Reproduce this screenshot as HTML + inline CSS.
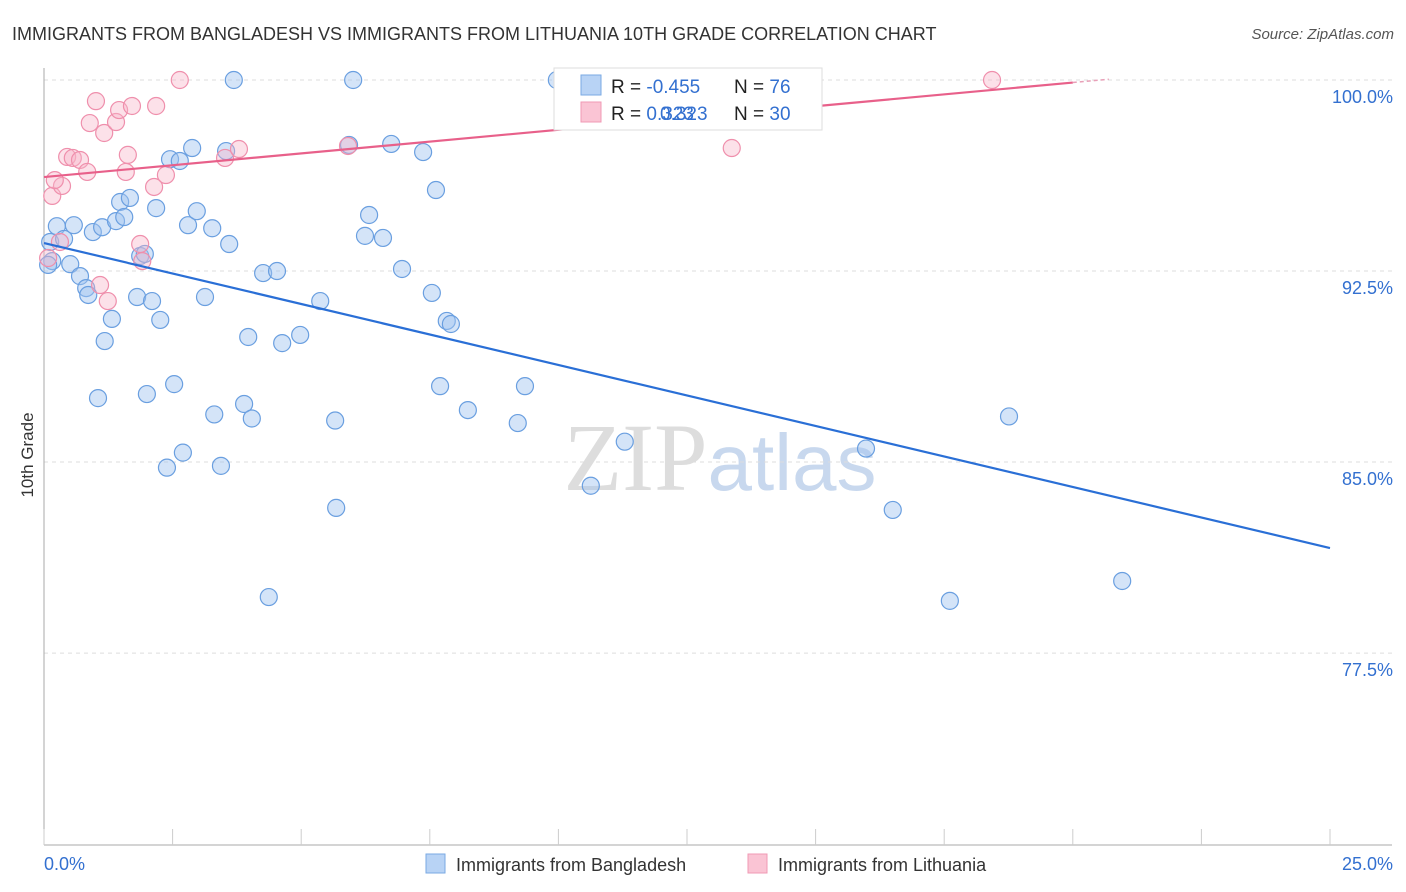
<!DOCTYPE html>
<html><head><meta charset="utf-8"><style>
body{margin:0;background:#fff;font-family:"Liberation Sans",sans-serif;}
svg{display:block}
</style></head><body>
<svg id="chart" width="1406" height="892" xmlns="http://www.w3.org/2000/svg">
<text x="12" y="40" font-size="18" fill="#333">IMMIGRANTS FROM BANGLADESH VS IMMIGRANTS FROM LITHUANIA 10TH GRADE CORRELATION CHART</text>
<text x="1394" y="39" font-size="15" fill="#555" text-anchor="end" font-style="italic">Source: ZipAtlas.com</text>
<text x="33" y="455" font-size="17" fill="#333" text-anchor="middle" transform="rotate(-90 33 455)">10th Grade</text>
<text x="720" y="490" font-size="96" fill="#ddd" text-anchor="middle" font-family="Liberation Serif">ZIP<tspan fill="#c8d8ee" font-family="Liberation Sans" font-size="80">atlas</tspan></text>
<g id="grid"></g><g id="pts"></g><g id="lines"></g>
<g>
<rect x="554" y="68" width="268" height="62" fill="#fff" stroke="#ddd"/>
<rect x="581" y="75" width="20" height="20" fill="#b8d3f5" stroke="#7aa9e3"/>
<rect x="581" y="102" width="20" height="20" fill="#fac4d4" stroke="#f09ab4"/>
<text x="611" y="93" font-size="19" fill="#222">R = <tspan fill="#3370d0">-0.455</tspan></text>
<text x="734" y="93" font-size="19" fill="#222">N = <tspan fill="#3370d0"> 76</tspan></text>
<text x="611" y="120" font-size="19" fill="#222">R = <tspan fill="#3370d0">  0.323</tspan></text>
<text x="660" y="120" font-size="19" fill="#3370d0">0.323</text>
<text x="734" y="120" font-size="19" fill="#222">N = <tspan fill="#3370d0">30</tspan></text>
</g>
<g>
<rect x="426" y="854" width="19" height="19" fill="#b8d3f5" stroke="#7aa9e3"/>
<text x="456" y="871" font-size="18" fill="#333">Immigrants from Bangladesh</text>
<rect x="748" y="854" width="19" height="19" fill="#fac4d4" stroke="#f09ab4"/>
<text x="778" y="871" font-size="18" fill="#333">Immigrants from Lithuania</text>
</g>
</svg>
<script>
const xTickLabels=["0.0%","25.0%"];
const yTicks=[100,92.5,85,77.5];
const yTickLabels=["100.0%","92.5%","85.0%","77.5%"];
const bangladeshX=[0.25,0.16,0.12,0.39,0.51,0.58,0.7,0.82,0.86,0.95,1.13,1.18,1.05,1.32,1.4,1.48,1.56,1.67,1.81,1.87,1.96,2.0,2.1,2.18,2.26,2.39,2.45,2.53,2.64,2.7,2.8,2.88,2.97,3.13,3.27,3.31,3.44,3.54,3.6,3.69,3.89,3.97,4.04,4.26,4.37,4.53,4.63,4.98,5.37,5.66,5.68,5.93,6.01,6.24,6.32,6.59,6.75,6.96,7.37,7.54,7.62,7.7,7.83,7.91,8.24,9.21,9.35,9.97,10.63,11.29,15.98,16.5,17.61,18.76,20.96,0.08];
const bangladeshY=[94.26,92.89,93.64,93.76,92.77,94.3,92.3,91.83,91.56,94.03,94.22,89.75,87.51,90.62,94.46,95.21,94.62,95.37,91.48,93.09,93.17,87.67,91.32,94.97,90.58,84.78,96.89,88.06,96.82,85.37,94.3,97.33,94.85,91.48,94.18,86.87,84.85,97.21,93.56,100,87.28,89.91,86.71,92.42,79.7,92.5,89.67,89.99,91.32,86.63,83.2,97.45,100,93.88,94.7,93.8,97.49,92.58,97.17,91.64,95.68,87.98,90.54,90.42,87.04,86.53,87.98,100,84.07,85.8,85.53,83.12,79.55,86.79,80.33,92.74];
const lithuaniaX=[0.16,0.35,0.21,0.45,0.56,0.7,0.84,1.01,0.89,1.17,1.4,1.46,1.63,1.71,1.59,2.18,2.14,2.37,2.64,3.52,3.79,5.91,1.87,1.91,1.09,1.24,13.37,18.43,0.31,0.08];
const lithuaniaY=[95.45,95.84,96.07,96.98,96.94,96.86,96.39,99.17,98.31,97.92,98.35,98.82,97.06,98.98,96.39,98.98,95.8,96.27,100,96.94,97.29,97.41,93.56,92.89,91.95,91.32,97.33,100,93.64,93.01];
const regB=[93.6,-0.479]; // intercept, slope per %
const regL=[96.19,0.1855];
const NS="http://www.w3.org/2000/svg";
const X=v=>44+v*51.44, Y=v=>80+(100-v)*25.47;
function mk(tag,attrs,parent){const e=document.createElementNS(NS,tag);for(const k in attrs)e.setAttribute(k,attrs[k]);parent.appendChild(e);return e;}
const grid=document.getElementById('grid');
yTicks.forEach((t,i)=>{
 const l=mk('line',{x1:44,x2:1392,y1:Y(t),y2:Y(t),stroke:'#ddd','stroke-dasharray':'4,4'},grid);
 
 
 const tx=mk('text',{x:1393,y:Y(t)+23,'font-size':18,fill:'#3370d0','text-anchor':'end'},grid);
 tx.textContent=yTickLabels[i];
 
 
});
const ax=mk('line',{x1:44,x2:44,y1:68,y2:845,stroke:'#aaa'},grid);


const bx=mk('line',{x1:44,x2:1392,y1:845,y2:845,stroke:'#aaa'},grid);


for(let i=0;i<=10;i++){const t=mk('line',{x1:X(i*2.5),x2:X(i*2.5),y1:829,y2:845,stroke:'#ccc'},grid);
 
 }
[[0,'start'],[25,'end']].forEach((p,i)=>{const t=mk('text',{x:i?1393:44,y:870,'font-size':18,fill:'#3370d0','text-anchor':p[1]},grid);t.textContent=xTickLabels[i];
 
 });
const pts=document.getElementById('pts');
bangladeshX.forEach((x,i)=>{const c=mk('circle',{cx:X(x),cy:Y(bangladeshY[i]),r:8.5,fill:'rgba(160,196,240,0.45)',stroke:'#6a9fe0','stroke-width':1.2},pts);
 
 });
lithuaniaX.forEach((x,i)=>{const c=mk('circle',{cx:X(x),cy:Y(lithuaniaY[i]),r:8.5,fill:'rgba(248,180,200,0.4)',stroke:'#ef8fac','stroke-width':1.2},pts);
 
 });
const lines=document.getElementById('lines');
const lb=mk('line',{x1:X(0),y1:Y(regB[0]),x2:X(25),y2:Y(regB[0]+regB[1]*25),stroke:'#2a6fd6','stroke-width':2.2},lines);


const ll=mk('line',{x1:X(0),y1:Y(regL[0]),x2:X(20),y2:Y(regL[0]+regL[1]*20),stroke:'#e8608a','stroke-width':2.2},lines);


const ld=mk('line',{x1:X(20),y1:Y(regL[0]+regL[1]*20),x2:X(20.7),y2:Y(regL[0]+regL[1]*20.7),stroke:'#e8a0b8','stroke-width':1.5,'stroke-dasharray':'4,3'},lines);


</script>
</body></html>
